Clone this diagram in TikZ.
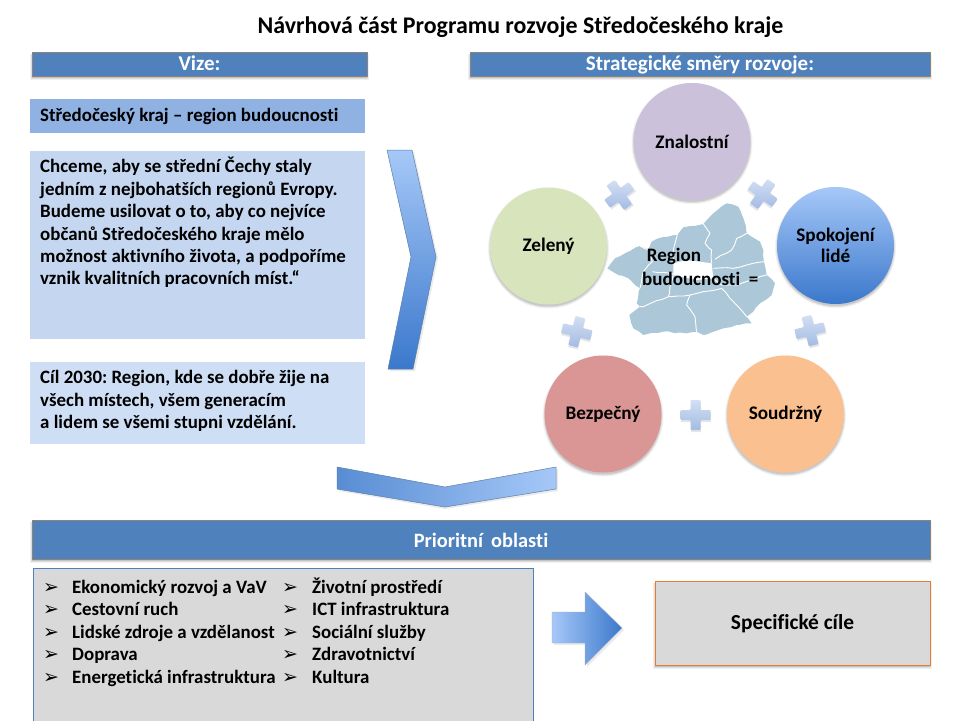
\documentclass[tikz,border=0pt]{standalone}
\usepackage{fontspec}
\usetikzlibrary{decorations.pathmorphing}
\setmainfont{Carlito}[Ligatures=CommonOff]
\newfontfamily\symfont{DejaVu Sans}
\begin{document}
\begin{tikzpicture}[x=1pt,y=-1pt,
  hdr/.style={fill=hdrblue,draw=hdredge,line width=.8pt,text=white,font=\fontsize{21}{22}\selectfont\bfseries,inner sep=0pt,text height=14.5pt,text depth=1.5pt},
  bodytxt/.style={font=\fontsize{18.9}{22.45}\selectfont\bfseries\frenchspacing,align=left,anchor=north west,inner sep=0pt,text=black},
  listtxt/.style={font=\fontsize{18.9}{20}\selectfont\bfseries\frenchspacing,anchor=base west,inner sep=0pt,text=black},
  bullet/.style={font=\symfont\fontsize{19}{20}\selectfont,anchor=base west,inner sep=0pt,text=black},
  circ/.style={circle,minimum size=117pt,inner sep=0pt,align=center,font=\fontsize{19.2}{21.5}\selectfont\bfseries,text=black},
  plain box/.style={inner sep=0pt,draw=none},
  wig/.style={decorate,decoration={random steps,segment length=6pt,amplitude=.7pt}},
  plusshape/.style={top color=plustop,bottom color=plusbot,draw=none}]
\pgfmathsetseed{7}
\definecolor{hdrblue}{HTML}{4F81BD}
\definecolor{hdredge}{HTML}{8E8378}
\definecolor{boxa}{HTML}{8FB2E3}
\definecolor{boxb}{HTML}{C5D7F0}
\definecolor{boxc}{HTML}{CEDEF4}
\definecolor{greyfill}{HTML}{D9D9D9}
\definecolor{plustop}{HTML}{D3DFF3}
\definecolor{plusbot}{HTML}{A3BBE3}
\definecolor{maparea}{HTML}{ACC8D8}
\definecolor{chevlight}{HTML}{A6C8F8}
\definecolor{chevdark}{HTML}{3B78CC}
\definecolor{chevedge}{HTML}{5B7FA8}
\definecolor{specedge}{HTML}{E27D32}
\newcommand{\softrect}[4]{%
  \foreach \e/\o in {2/.06,1/.08,0/.12}{\fill[black,opacity=\o] (#1-\e,#2+2) rectangle (#3+\e,#4+2+\e);}}
\newcommand{\softcirc}[2]{%
  \foreach \e/\o in {2/.05,1/.07,0/.10}{\fill[black,opacity=\o] (#1,#2+2) circle[radius=58.5+\e];}}
\useasboundingbox (0,0) rectangle (960,720);
\fill[white] (0,0) rectangle (960,720);
\clip (0,0) rectangle (960,720);
% title
\node[font=\fontsize{23.9}{26}\selectfont\bfseries,inner sep=0pt] (title) at (520.5,27) {Návrhová část Programu rozvoje Středočeského kraje};
% headers
\softrect{32}{52}{367}{76}
\softrect{470}{52}{930}{76}
\softrect{32}{520}{930}{559}
\node[hdr,minimum width=335pt,minimum height=24pt] (vize) at (199.5,64) {Vize:};
\node[hdr,minimum width=460pt,minimum height=24pt] (smery) at (700,64) {Strategické směry rozvoje:};
\node[hdr,minimum width=898pt,minimum height=39pt,text height=16pt,text depth=1pt,font=\fontsize{20.4}{22}\selectfont\bfseries] (prio) at (481,539.5) {Prioritní\, oblasti};
% left boxes
\node[plain box,fill=boxa,minimum width=335pt,minimum height=34pt] (b1) at (197.5,116) {};
\node[listtxt] (t1) at (40,121) {Středočeský kraj -- region budoucnosti};
\node[plain box,fill=boxb,minimum width=335pt,minimum height=188pt] (b2) at (197.5,245) {};
\node[bodytxt] (t2) at (40,157) {Chceme, aby se střední Čechy staly\\jedním z nejbohatších regionů Evropy.\\Budeme usilovat o to, aby co nejvíce\\občanů Středočeského kraje mělo\\možnost aktivního života, a podpoříme\\vznik kvalitních pracovních míst.“};
\node[plain box,fill=boxc,minimum width=335pt,minimum height=82pt] (b3) at (197.5,403) {};
\node[bodytxt] (t3) at (40,370.5) {Cíl 2030: Region, kde se dobře žije na\\všech místech, všem generacím\\a lidem se všemi stupni vzdělání.};
% chevrons
\fill[black,opacity=.08] (389,152) -- (414,152) -- (438,258) -- (415,371) -- (390,371) -- (413,258) -- cycle;
\path[draw=chevedge,line width=.5pt,top color=chevlight,bottom color=chevdark] (387,150) -- (412,150) -- (436,257) -- (413,369) -- (388,369) -- (411,257) -- cycle;
\fill[black,opacity=.08] (339,469) -- (445,489) -- (558,469) -- (558,491) -- (445,509) -- (339,491) -- cycle;
\path[draw=chevedge,line width=.5pt,left color=chevdark!85!white,right color=chevlight] (337,467) -- (445,487) -- (556,467) -- (556,489) -- (445,507) -- (337,489) -- cycle;
% circles
\softcirc{692}{141.5}\softcirc{835.5}{245.5}\softcirc{548.5}{246}\softcirc{603}{414}\softcirc{785.5}{414}
\node[circ,fill={rgb,255:red,204;green,193;blue,218}] (zn) at (692,141.5) {Znalostní};
\node[circ,top color=chevlight,bottom color=chevdark] (sp) at (835.5,245.5) {Spokojení\\lidé};
\node[circ,fill={rgb,255:red,216;green,228;blue,188}] (ze) at (548.5,246) {Zelený};
\node[circ,fill={rgb,255:red,217;green,150;blue,148}] (be) at (603,414) {Bezpečný};
\node[circ,fill={rgb,255:red,250;green,192;blue,143}] (so) at (785.5,414) {Soudržný};
% pluses
\foreach \px/\py/\rot in {619.3/195/36,762.7/194/-36,576.7/331.7/-14,810/330.7/14,695.7/415/0}{
  \begin{scope}[shift={(\px,\py)},rotate=\rot]
  \fill[black,opacity=.10,shift={(0.5,2)}] (-5,-15) -- (5,-15) -- (5,-5) -- (15,-5) -- (15,5) -- (5,5) -- (5,15) -- (-5,15) -- (-5,5) -- (-15,5) -- (-15,-5) -- (-5,-5) -- cycle;
  \path[plusshape,rounded corners=1pt] (-5,-15) -- (5,-15) -- (5,-5) -- (15,-5) -- (15,5) -- (5,5) -- (5,15) -- (-5,15) -- (-5,5) -- (-15,5) -- (-15,-5) -- (-5,-5) -- cycle;
  \end{scope}}
% priority list
\node[fill=greyfill,draw=hdrblue,line width=.8pt,minimum width=500pt,minimum height=160pt,inner sep=0pt] (list) at (283,648) {};
\foreach \i/\yy/\a/\b in {1/593/Ekonomický rozvoj a VaV/Životní prostředí,2/615.5/Cestovní ruch/ICT infrastruktura,3/638/Lidské zdroje a vzdělanost/Sociální služby,4/660.5/Doprava/Zdravotnictví,5/683/Energetická infrastruktura/Kultura}{
  \node[bullet] (ba\i) at (43,\yy) {➢};
  \node[listtxt] (la\i) at (72,\yy) {\a};
  \node[bullet] (bb\i) at (282,\yy) {➢};
  \node[listtxt] (lb\i) at (312,\yy) {\b};
}
% block arrow
\fill[black,opacity=.08] (554,614) -- (587,614) -- (587,594) -- (624,630) -- (587,667) -- (587,645) -- (554,645) -- cycle;
\path[draw=chevedge!60!white,line width=.4pt,left color=chevlight,right color=chevdark] (552,612) -- (585,612) -- (585,592) -- (622,628) -- (585,665) -- (585,643) -- (552,643) -- cycle;
% specific goals
\softrect{655}{581}{930}{665}
\node[fill=greyfill,draw=specedge,line width=1pt,minimum width=275pt,minimum height=84pt,inner sep=0pt,text height=15pt,text depth=2pt,font=\fontsize{21.4}{24}\selectfont\bfseries,text=black] (spec) at (792.5,623) {Specifické cíle};
% map
\begin{scope}[shift={(590,200)},x=.3333pt,y=-.3333pt]
\fill[maparea,wig] (52,205) -- (75,175) -- (105,160) -- (150,138) -- (175,148) -- (185,125) -- (215,112) -- (262,105) -- (280,82) -- (340,72) -- (370,40) -- (410,10) -- (445,20) -- (462,60) -- (470,100) -- (510,125) -- (520,150) -- (522,185) -- (530,225) -- (555,250) -- (545,285) -- (510,310) -- (490,335) -- (470,350) -- (485,370) -- (440,375) -- (400,385) -- (340,405) -- (320,395) -- (290,400) -- (220,395) -- (160,405) -- (130,385) -- (118,345) -- (150,320) -- (140,310) -- (150,265) -- (115,235) -- (85,225) -- cycle;
\fill[white] (250,190) -- (290,180) -- (365,190) -- (370,235) -- (320,240) -- (250,225) -- cycle;
\draw[white,line width=.9pt,line join=round,wig]
  (150,138) -- (175,150) -- (187,185) -- (160,215) -- (150,265)
  (262,105) -- (250,150) -- (250,190)
  (340,72) -- (360,100) -- (345,130) -- (365,150) -- (365,190)
  (470,100) -- (440,115) -- (425,150) -- (375,178)
  (522,185) -- (470,195) -- (430,205) -- (370,205)
  (370,235) -- (395,255) -- (440,255) -- (530,225)
  (395,265) -- (430,305) -- (470,350)
  (395,265) -- (340,275) -- (300,285) -- (290,315) -- (315,350) -- (320,395)
  (300,285) -- (235,290) -- (160,320) -- (150,320)
  (187,215) -- (250,222) -- (240,260) -- (235,290);
\end{scope}
\node[font=\fontsize{19}{24}\selectfont\bfseries,inner sep=0pt,text=black,anchor=base] (reg1) at (674,261.5) {Region};
\node[font=\fontsize{19}{24}\selectfont\bfseries,inner sep=0pt,text=black,anchor=base west] (reg2) at (642,285) {budoucnosti\ \ =};
\end{tikzpicture}
\end{document}
